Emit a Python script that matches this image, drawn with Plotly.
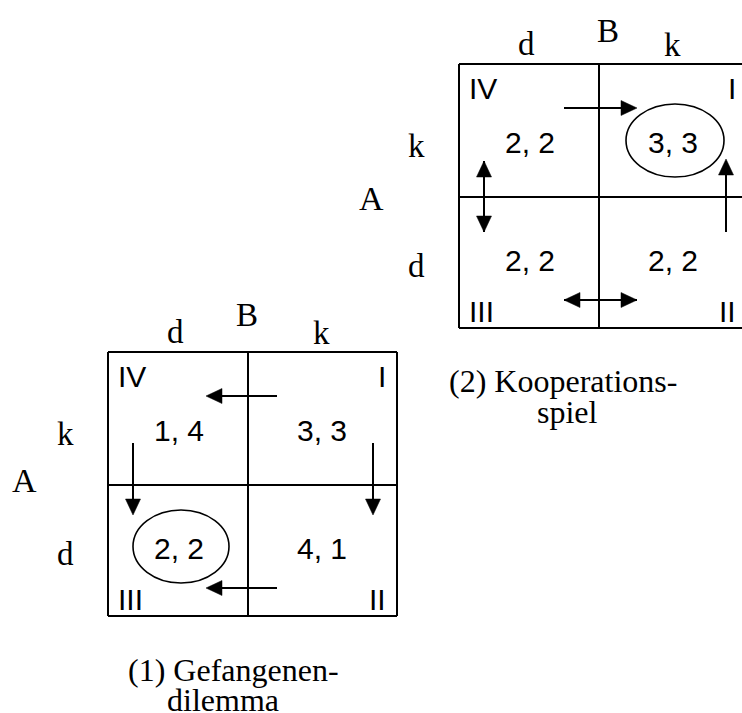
import math
import plotly.graph_objects as go

# ---------------- data ----------------
row_player = "A"
col_player = "B"
row_strategies = ["k", "d"]          # top row, bottom row
col_strategies = ["d", "k"]          # left column, right column
quadrant_labels = [["IV", "I"], ["III", "II"]]

pd_payoffs = [["1, 4", "3, 3"], ["2, 2", "4, 1"]]
coop_payoffs = [["2, 2", "3, 3"], ["2, 2", "2, 2"]]

pd_caption = ["(1) Gefangenen-", "dilemma"]
coop_caption = ["(2) Kooperations-", "spiel"]

pd_equilibrium = (1, 0)     # (row, col) circled
coop_equilibrium = (0, 1)

# best-response moves: (from_cell, to_cell, two_way)
pd_moves = [((0, 1), (0, 0), False), ((0, 0), (1, 0), False),
            ((0, 1), (1, 1), False), ((1, 1), (1, 0), False)]
coop_moves = [((0, 0), (0, 1), False), ((0, 0), (1, 0), True),
              ((1, 1), (0, 1), False), ((1, 0), (1, 1), True)]

# ---------------- layout geometry ----------------
W, H = 742, 713
SERIF = "Liberation Serif, Times New Roman, serif"
SANS = "Liberation Sans, Arial, sans-serif"

pd_geom = dict(xe=[108, 248, 397], ye=[352, 485, 616], B=(247, 315), A=(24, 480),
               cap=[(233, 670), (223, 700)], ell=(133, 229, 510, 583))
coop_geom = dict(xe=[459, 599, 747], ye=[64, 197, 328], B=(608, 31), A=(371, 198),
                 cap=[(563, 381), (567, 412)], ell=(626, 724, 104, 177))

fig = go.Figure()
shapes, annos = [], []


def txt(x, y, s, font, size):
    annos.append(dict(x=x, y=y, text=s, showarrow=False, xref="x", yref="y",
                      xanchor="center", yanchor="middle",
                      font=dict(family=font, size=size, color="black")))


def arrow(tail, tip, head_len=16, half_w=7.5, lw=2):
    dx, dy = tip[0] - tail[0], tip[1] - tail[1]
    L = math.hypot(dx, dy)
    ux, uy = dx / L, dy / L
    bx, by = tip[0] - ux * head_len, tip[1] - uy * head_len
    shapes.append(dict(type="line", x0=tail[0], y0=tail[1], x1=bx + ux * 2, y1=by + uy * 2,
                       xref="x", yref="y", line=dict(color="black", width=lw)))
    px, py = -uy, ux
    p = f"M {tip[0]},{tip[1]} L {bx + px * half_w},{by + py * half_w} L {bx - px * half_w},{by - py * half_w} Z"
    shapes.append(dict(type="path", path=p, xref="x", yref="y", fillcolor="black",
                       line=dict(color="black", width=0.5)))


def arrow_endpoints(g, frm, to, pd):
    x0, y0 = g["xe"][0], g["ye"][0]
    if frm[0] == to[0]:  # horizontal move
        y = y0 + (44 if frm[0] == 0 else 236)
        a, b = x0 + (169 if pd else 105), x0 + (98 if pd else 178)
        if to[1] < frm[1]:
            return (max(a, b), y), (min(a, b), y)
        return (min(a, b), y), (max(a, b), y)
    else:  # vertical move
        x = x0 + (25 if frm[1] == 0 else 265 if pd else 267)
        a, b = y0 + (91 if pd else 97), y0 + (163 if pd else 168)
        if to[0] > frm[0]:
            return (x, a), (x, b)
        return (x, b), (x, a - 2)


def draw(g, payoffs, eq, moves, caption, pd):
    xe, ye = g["xe"], g["ye"]
    x0, y0 = xe[0], ye[0]
    lw = 2
    for yy in ye:
        shapes.append(dict(type="line", x0=xe[0], x1=xe[2], y0=yy, y1=yy, line=dict(color="black", width=lw)))
    for xx in xe:
        shapes.append(dict(type="line", x0=xx, x1=xx, y0=ye[0], y1=ye[2], line=dict(color="black", width=lw)))
    pcx, pcy = [71, 214], [78, 196]
    for r in range(2):
        for c in range(2):
            txt(x0 + pcx[c], y0 + pcy[r], payoffs[r][c], SANS, 30)
    qpos = [[(24, 24), (274 if pd else 273, 24)], [(22, 247), (269 if pd else 268, 247)]]
    for r in range(2):
        for c in range(2):
            qx, qy = qpos[r][c]
            txt(x0 + qx, y0 + qy, quadrant_labels[r][c], SANS, 30)
    txt(x0 + 67, y0 - 20, col_strategies[0], SERIF, 33)
    txt(x0 + 213, y0 - 19, col_strategies[1], SERIF, 33)
    txt(g["B"][0], g["B"][1], col_player, SERIF, 33)
    txt(x0 - 43, y0 + 82, row_strategies[0], SERIF, 33)
    txt(x0 - 43, y0 + 202, row_strategies[1], SERIF, 33)
    txt(g["A"][0], g["A"][1], row_player, SERIF, 34)
    for (cx, cy), s in zip(g["cap"], caption):
        txt(cx, cy, s, SERIF, 32)
    ex0, ex1, ey0, ey1 = g["ell"]
    shapes.append(dict(type="circle", x0=ex0, x1=ex1, y0=ey0, y1=ey1,
                       line=dict(color="black", width=1.6)))
    for frm, to, two in moves:
        t, h = arrow_endpoints(g, frm, to, pd)
        arrow(t, h)
        if two:
            arrow(h, t)


draw(pd_geom, pd_payoffs, pd_equilibrium, pd_moves, pd_caption, True)
draw(coop_geom, coop_payoffs, coop_equilibrium, coop_moves, coop_caption, False)

for s in shapes:
    s.setdefault("xref", "x")
    s.setdefault("yref", "y")

fig.update_layout(
    width=W, height=H, margin=dict(l=0, r=0, t=0, b=0),
    paper_bgcolor="white", plot_bgcolor="white",
    xaxis=dict(range=[0, W], visible=False, fixedrange=True),
    yaxis=dict(range=[H, 0], visible=False, fixedrange=True),
    shapes=shapes, annotations=annos, showlegend=False,
)
fig.write_html("out.html", config={"displayModeBar": False},
               post_script="document.body.style.margin='0';document.body.style.overflow='hidden';")
